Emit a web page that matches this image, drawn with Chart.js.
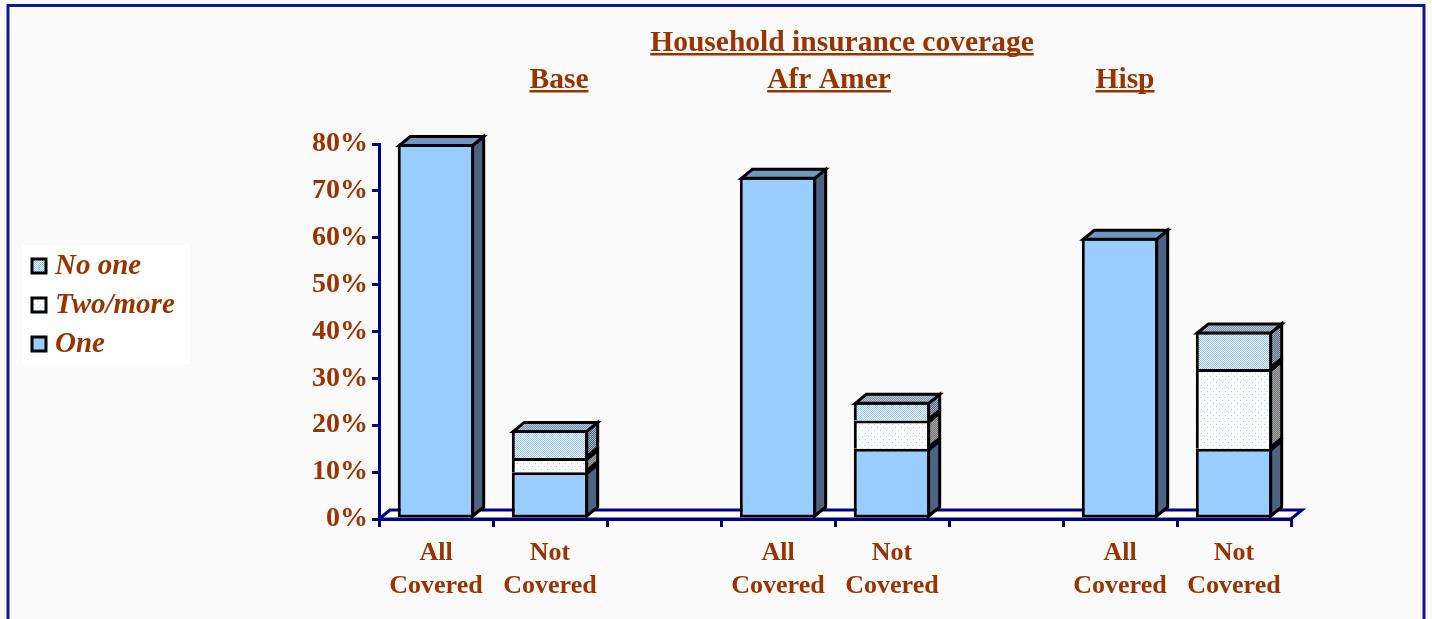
<!DOCTYPE html>
<html>
<head>
<meta charset="utf-8">
<title>Household insurance coverage</title>
<script src="https://cdn.jsdelivr.net/npm/chart.js@4/dist/chart.umd.min.js"></script>
<style>
  html, body { margin: 0; padding: 0; background: #fafafa; }
  canvas { display: block; }
</style>
</head>
<body>
<canvas id="myChart" width="1432" height="619"></canvas>
<script>
var categories = [['All', 'Covered'], ['Not', 'Covered'], '', ['All', 'Covered'], ['Not', 'Covered'], '', ['All', 'Covered'], ['Not', 'Covered']];
var groups = ['Base', 'Afr Amer', 'Hisp'];
var one = [80, 10, null, 73, 15, null, 60, 15];
var twoMore = [null, 3, null, null, 6, null, null, 17];
var noOne = [null, 6, null, null, 4, null, null, 8];

var brown = '#993300';
var navy = '#000080';
var serif = "'Liberation Serif', 'Times New Roman', serif";
var depth = { x: 11, y: -9 };
var edge = 3;

// small repeating tiles for the dotted fills
function makePattern(size, bg, fg, dots) {
  var c = document.createElement('canvas');
  c.width = size; c.height = size;
  var g = c.getContext('2d');
  g.fillStyle = bg;
  g.fillRect(0, 0, size, size);
  g.fillStyle = fg;
  dots.forEach(function (d) { g.fillRect(d[0], d[1], 1, 1); });
  return g.createPattern(c, 'repeat');
}

var checker = [[0, 0], [1, 1]];
var noOneFront = makePattern(2, '#ffffff', '#8cc4ff', checker);
var noOneSide = makePattern(2, '#55667f', '#a7b2c0', checker);
var noOneTop = makePattern(2, '#7b91ab', '#b9c6d4', checker);
var twoFront = makePattern(6, '#ffffff', '#99ccff', [[1, 1], [4, 4]]);
var twoSide = makePattern(2, '#767676', '#a2a2a2', checker);

function face(ctx, pts, fill) {
  ctx.beginPath();
  ctx.moveTo(pts[0][0], pts[0][1]);
  for (var k = 1; k < pts.length; k++) ctx.lineTo(pts[k][0], pts[k][1]);
  ctx.closePath();
  ctx.fillStyle = fill;
  ctx.fill();
  ctx.stroke();
}

// page background and frame
var frame = {
  id: 'frame',
  beforeDraw: function (chart) {
    var ctx = chart.ctx;
    ctx.save();
    ctx.fillStyle = '#fafafa';
    ctx.fillRect(0, 0, chart.width, chart.height);
    ctx.restore();
  },
  afterDraw: function (chart) {
    var ctx = chart.ctx;
    ctx.save();
    ctx.strokeStyle = '#16168c';
    ctx.lineWidth = 3;
    ctx.beginPath();
    ctx.moveTo(8, chart.height + 5);
    ctx.lineTo(8, 5.5);
    ctx.lineTo(1424, 5.5);
    ctx.lineTo(1424, chart.height + 5);
    ctx.stroke();
    ctx.restore();
  }
};

// floor under the bars
var floor = {
  id: 'floor',
  beforeDatasetsDraw: function (chart) {
    var ctx = chart.ctx, a = chart.chartArea;
    var y0 = chart.scales.y.getPixelForValue(0);
    ctx.save();
    ctx.beginPath();
    ctx.moveTo(a.left, y0);
    ctx.lineTo(a.left + depth.x, y0 + depth.y);
    ctx.lineTo(a.right + depth.x, y0 + depth.y);
    ctx.lineTo(a.right, y0);
    ctx.closePath();
    ctx.fillStyle = '#ffffff';
    ctx.fill();
    ctx.strokeStyle = navy;
    ctx.lineWidth = 3;
    ctx.stroke();
    ctx.restore();
  }
};

// side and top faces give the bars their depth
var bars3d = {
  id: 'bars3d',
  afterDatasetsDraw: function (chart) {
    var ctx = chart.ctx;
    var sets = chart.data.datasets;
    var h = edge / 2;
    ctx.save();
    ctx.lineWidth = edge;
    ctx.strokeStyle = '#000000';
    ctx.lineJoin = 'miter';
    categories.forEach(function (_, i) {
      var top = -1;
      sets.forEach(function (ds, d) { if (ds.data[i] != null) top = d; });
      sets.forEach(function (ds, d) {
        if (ds.data[i] == null) return;
        var bar = chart.getDatasetMeta(d).data[i];
        var l = bar.x - bar.width / 2 + h, r = bar.x + bar.width / 2 - h;
        var t = bar.y + h, b = bar.base - h;
        face(ctx, [[r, t], [r + depth.x, t + depth.y], [r + depth.x, b + depth.y], [r, b]], ds.sideColor);
        if (d === top) {
          face(ctx, [[l, t], [l + depth.x, t + depth.y], [r + depth.x, t + depth.y], [r, t]], ds.topColor);
        }
      });
    });
    ctx.restore();
  }
};

function underlined(ctx, text, x, y) {
  ctx.fillText(text, x, y);
  var w = ctx.measureText(text).width;
  ctx.fillRect(x - w / 2, y + 2, w, 2.5);
}

// headings and the boxed legend on the left
var labels = {
  id: 'labels',
  afterDraw: function (chart) {
    var ctx = chart.ctx, x = chart.scales.x, a = chart.chartArea;
    ctx.save();
    ctx.fillStyle = brown;
    ctx.textAlign = 'center';
    ctx.textBaseline = 'alphabetic';
    ctx.font = 'bold 29.5px ' + serif;
    underlined(ctx, 'Household insurance coverage', (a.left + a.right) / 2 + 7, 51);
    underlined(ctx, groups[0], x.getPixelForValue(1) + 9, 88);
    underlined(ctx, groups[1], (x.getPixelForValue(3) + x.getPixelForValue(4)) / 2 - 6, 88);
    underlined(ctx, groups[2], x.getPixelForValue(6) + 5, 88);

    ctx.fillStyle = '#ffffff';
    ctx.fillRect(22, 245, 168, 119);
    ctx.textAlign = 'left';
    ctx.font = 'italic bold 29px ' + serif;
    var sets = chart.data.datasets.slice().reverse();
    sets.forEach(function (ds, k) {
      var yb = 274 + k * 39;
      ctx.fillStyle = ds.backgroundColor;
      ctx.fillRect(32, yb - 15, 14, 14);
      ctx.strokeStyle = '#000000';
      ctx.lineWidth = 3;
      ctx.strokeRect(32, yb - 15, 14, 14);
      ctx.fillStyle = brown;
      ctx.fillText(ds.label, 55, yb);
    });
    ctx.restore();
  }
};

var ctx = document.getElementById('myChart').getContext('2d');
var chart = new Chart(ctx, {
  type: 'bar',
  data: {
    labels: categories,
    datasets: [
      { label: 'One', data: one, backgroundColor: '#99ccff', borderSkipped: false, sideColor: '#4e6384', topColor: '#6f97c0' },
      { label: 'Two/more', data: twoMore, backgroundColor: twoFront, borderSkipped: 'start', sideColor: twoSide, topColor: '#9aa6b5' },
      { label: 'No one', data: noOne, backgroundColor: noOneFront, borderSkipped: 'start', sideColor: noOneSide, topColor: noOneTop }
    ]
  },
  options: {
    responsive: false,
    animation: false,
    layout: { padding: { top: 144, right: 141, left: 0, bottom: 0 } },
    datasets: {
      bar: {
        borderColor: '#000000',
        borderWidth: edge,
        categoryPercentage: 1,
        barPercentage: 0.67
      }
    },
    plugins: {
      legend: { display: false },
      tooltip: { enabled: false }
    },
    scales: {
      x: {
        stacked: true,
        afterFit: function (s) { s.height = 100; },
        grid: { display: true, drawOnChartArea: false, offset: true, color: navy, lineWidth: 3, tickLength: 8 },
        border: { display: true, color: navy, width: 3 },
        ticks: {
          color: brown,
          padding: 9,
          maxRotation: 0,
          autoSkip: false,
          font: { family: serif, size: 26, weight: 'bold', lineHeight: 1.3 }
        }
      },
      y: {
        stacked: true,
        min: 0,
        max: 80,
        afterFit: function (s) { s.width = 379; },
        grid: { drawOnChartArea: false, color: navy, lineWidth: 3, tickLength: 7 },
        border: { display: true, color: navy, width: 3 },
        ticks: {
          stepSize: 10,
          color: brown,
          padding: 4,
          font: { family: serif, size: 28, weight: 'bold' },
          callback: function (v) { return v + '%'; }
        }
      }
    }
  },
  plugins: [frame, floor, bars3d, labels]
});
</script>
</body>
</html>
